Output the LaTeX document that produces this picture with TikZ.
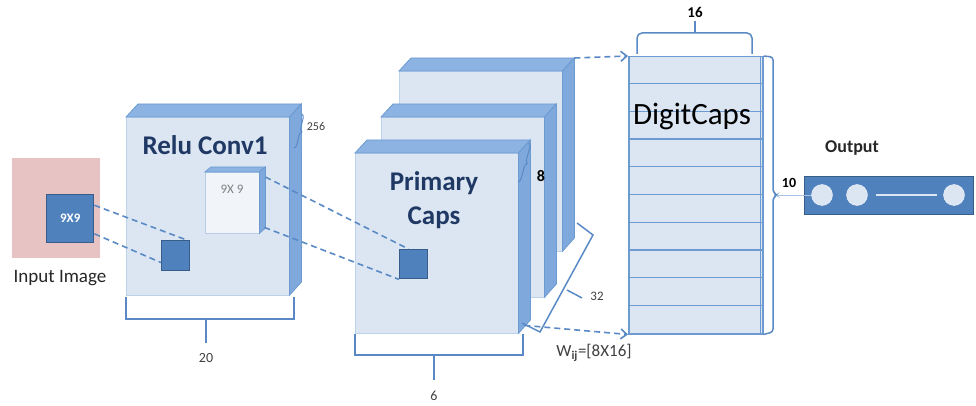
\documentclass[tikz,border=0pt]{standalone}
\usepackage{fontspec}
\setmainfont{Carlito}
\usepackage{tikz}
\usetikzlibrary{arrows.meta,positioning,calc,decorations.pathreplacing}
\definecolor{capface}{HTML}{DCE6F2}
\definecolor{captop}{HTML}{8DB3E2}
\definecolor{capside}{HTML}{7FA8DC}
\definecolor{capedge}{HTML}{6C9BD2}
\definecolor{sqfill}{HTML}{4F81BD}
\definecolor{sqedge}{HTML}{385D8A}
\definecolor{navy}{HTML}{1F3864}
\definecolor{dashc}{HTML}{5A8AC6}
\definecolor{pinkimg}{HTML}{E8C3C3}
\definecolor{numc}{HTML}{404040}
\tikzset{
  face/.style={draw=capedge!45,fill=capface,inner sep=0pt,anchor=north west},
  topd/.style={fill=captop,draw=capedge,line width=0.8pt},
  sided/.style={fill=capside,draw=capedge,line width=0.8pt},
  sq/.style={draw=sqedge,line width=1.4pt,fill=sqfill,inner sep=0pt,anchor=north west},
  dl/.style={draw=dashc,line width=1.6pt,dash pattern=on 6pt off 4pt},
  br/.style={draw=dashc,line width=1.5pt},
  ttl/.style={font=\fontsize{27}{34}\selectfont\bfseries,text=navy,align=center},
  num/.style={font=\fontsize{14}{16}\selectfont,text=numc},
  bnum/.style={font=\fontsize{15}{16}\selectfont\bfseries,text=black},
}

\begin{document}
\begin{tikzpicture}[x=1pt,y=-1pt]
  \useasboundingbox (0,0) rectangle (976,406);
  % input image
  \node[fill=pinkimg,inner sep=0pt,anchor=north west,minimum width=88pt,minimum height=100pt] (img) at (12,158) {};
  \node[sq,minimum width=47pt,minimum height=48pt,text=white,font=\fontsize{13}{14}\selectfont\bfseries] (insq) at (46,194) {9X9};
  \node[font=\fontsize{19}{20}\selectfont,text=black!85] (imglbl) at (60,278) {Input Image};
  % relu conv1
  \node[face,minimum width=163pt,minimum height=178pt] (relu) at (126,117) {};
  \draw[topd] (relu.north west) -- ++(12,-13) -- ++(163,0) -- (relu.north east) -- cycle;
  \draw[sided] (relu.north east) -- ++(12,-13) -- ++(0,178) -- (relu.south east) -- cycle;
  \node[ttl] (relut) at (205,145) {Relu Conv1};
  \node[face,fill=white!60!capface,draw=capedge!50,minimum width=54pt,minimum height=61pt] (kern) at (205,172) {};
  \draw[topd] (kern.north west) -- ++(6,-5) -- ++(54,0) -- (kern.north east) -- cycle;
  \draw[sided] (kern.north east) -- ++(6,-5) -- ++(0,61) -- (kern.south east) -- cycle;
  \node[font=\fontsize{13}{14}\selectfont,text=gray] (kernt) at (232,189) {9X 9};
  \node[sq,minimum width=28pt,minimum height=30pt] (rsq) at (161,240) {};
  \draw[dl] (insq.29) -- (rsq.55);
  \draw[dl] (insq.-32) -- (rsq.205);
  % primary caps
  \foreach \n/\x/\y in {3/399/71,2/381/117,1/355/153}{
    \node[face,minimum width=163pt,minimum height=180pt] (pc\n) at (\x,\y) {};
    \draw[topd] (pc\n.north west) -- ++(12,-13) -- ++(163,0) -- (pc\n.north east) -- cycle;
    \draw[sided] (pc\n.north east) -- ++(12,-13) -- ++(0,180) -- (pc\n.south east) -- cycle;
  }
  \node[ttl] (pct) at (434,200) {Primary\\Caps};
  \node[sq,minimum width=28pt,minimum height=29pt] (psq) at (399,249) {};
  \draw[dl] ($(kern.north east)+(6,5)$) -- (psq.109);
  \draw[dl] ($(kern.south east)+(5,-6)$) -- (psq.south west);
  % digitcaps
  \node[face,draw=capedge,line width=1.5pt,minimum width=134pt,minimum height=277pt] (dc) at (628,56) {};
  \foreach \i in {1,...,9}
    \draw[capedge,line width=1.4pt] ($(dc.north west)+(0,27.7*\i)$) -- ++(134,0);
  \draw[capedge,line width=1.5pt] ($(dc.north east)+(-3,0)$) -- ($(dc.south east)+(-3,0)$);
  \node[font=\fontsize{31}{34}\selectfont] (dct) at (692,117) {DigitCaps};
  \draw[dl,-{Straight Barb[length=6pt,width=10pt]}] ($(pc3.north east)+(12,-13)$) -- (dc.north west);
  \draw[dl,-{Straight Barb[length=6pt,width=10pt]}] ($(pc1.south east)+(6,-8)$) -- (dc.south west);
  % brackets
  \draw[br] (126,297) -- (126,319) -- (294,319) -- (294,297);
  \draw[br] (206,319) -- (206,343);
  \node[num] (n20) at (206,358) {20};
  \draw[br] (355,334) -- (355,355) -- (523,355) -- (523,334);
  \draw[br] (434,355) -- (434,380);
  \node[num] (n6) at (434,396) {6};
  \draw[br] (522,323) -- (540,332) -- (593,235) -- (577,223);
  \draw[br] (567,290) -- (582,298);
  \node[num,font=\fontsize{13}{14}\selectfont] (n32) at (597,296) {32};
  \draw[br,line width=1pt,decorate,decoration={brace,amplitude=4pt}] (302,114) -- (294,148);
  \node[num,font=\fontsize{12}{13}\selectfont] (n256) at (316,126) {256};
  \draw[br,line width=1pt,decorate,decoration={brace,amplitude=4pt}] (529,143) -- (518,182);
  \node[bnum,font=\fontsize{16}{17}\selectfont\bfseries] (n8) at (541,176) {8};
  \node[font=\fontsize{17}{18}\selectfont,text=numc] (wij) at (594,353) {W\textsubscript{\bfseries ij}=[8X16]};
  \draw[br,rounded corners=5pt] (637,54) -- (637,33) -- (752,33) -- (752,54);
  \draw[br] (695,33) -- (695,21);
  \node[bnum] (n16) at (695,12) {16};
  \coordinate (tip10) at (777,195);
  \draw[br,rounded corners=3pt] (dc.north east) -- (773,57) -- (773,192) -- (tip10) -- (773,198) -- (773,332) -- (dc.south east);
  \node[bnum,font=\fontsize{14}{15}\selectfont\bfseries] (n10) at (789,183) {10};
  % output
  \node[fill=sqfill,draw=sqedge,line width=1.4pt,inner sep=0pt,anchor=north west,minimum width=169pt,minimum height=38pt] (out) at (804,176) {};
  \node[font=\fontsize{18}{19}\selectfont\bfseries,text=black!85] (outt) at (852,148) {Output};
  \foreach \n/\x in {1/822,2/857,3/954}
    \node[circle,fill=capface,draw=white!60!capface,inner sep=0pt,minimum size=21pt] (c\n) at (\x,195) {};
  \draw[capface,line width=1.2pt,shorten <=8pt,shorten >=6pt] (c2) -- (c3);
  \draw[capedge!60!white,line width=1pt] (tip10) -- (c1);
\end{tikzpicture}
\end{document}
